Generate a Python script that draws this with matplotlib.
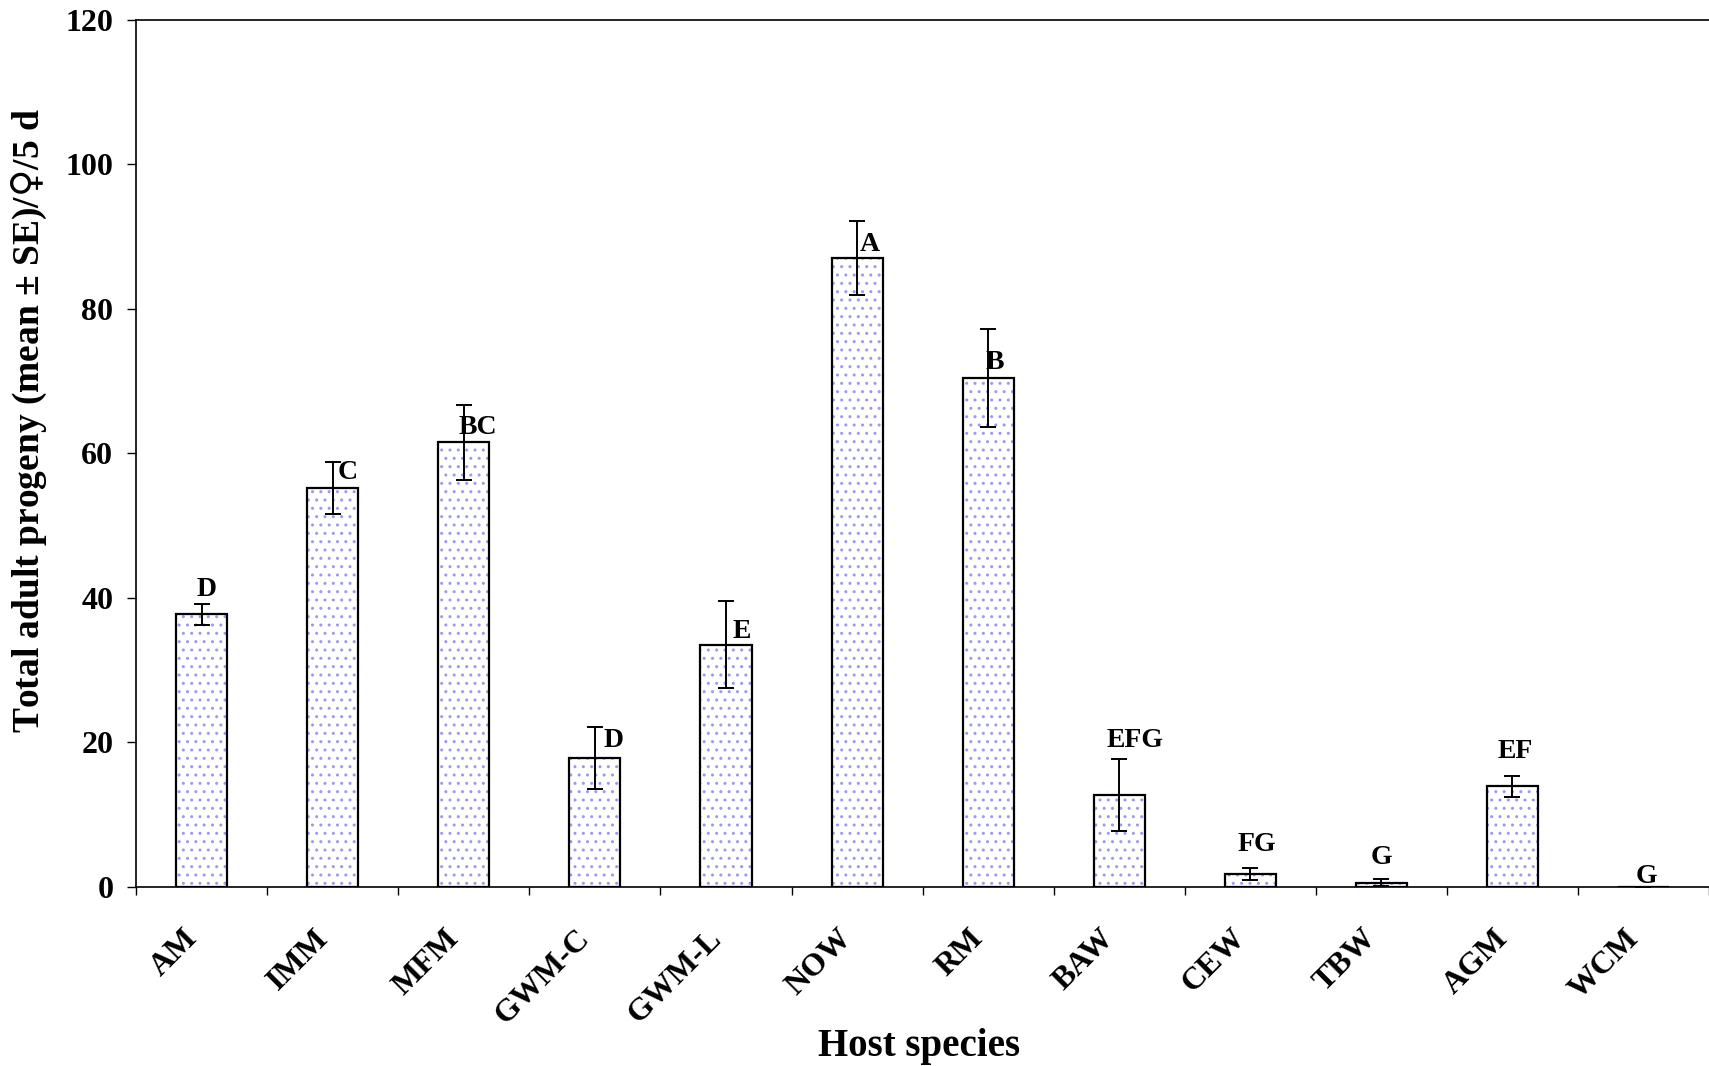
import numpy as np
import matplotlib
matplotlib.use('Agg')
import matplotlib.pyplot as plt
from matplotlib.transforms import ScaledTranslation

plt.rcParams['font.family'] = ['Liberation Serif', 'DejaVu Serif']
plt.rcParams['font.weight'] = 'bold'
plt.rcParams['hatch.linewidth'] = 1.0
# female sign drawn from DejaVu Sans (the serif one is tiny)
plt.rcParams['mathtext.fontset'] = 'custom'
plt.rcParams['mathtext.rm'] = 'DejaVu Sans'

# data
hosts = ['AM', 'IMM', 'MFM', 'GWM-C', 'GWM-L', 'NOW', 'RM', 'BAW', 'CEW', 'TBW', 'AGM', 'WCM']
progeny_mean = [37.7, 55.2, 61.5, 17.8, 33.5, 87.0, 70.4, 12.7, 1.8, 0.6, 13.9, 0.0]
progeny_se = [1.4, 3.6, 5.2, 4.3, 6.0, 5.1, 6.8, 5.0, 0.8, 0.5, 1.5, 0.0]

# mean separation letters and where they sit
letters = ['D', 'C', 'BC', 'D', 'E', 'A', 'B', 'EFG', 'FG', 'G', 'EF', 'G']
letter_dx = [0.04, 0.11, 0.11, 0.14, 0.12, 0.10, 0.05, 0.12, 0.05, 0.0, 0.02, 0.02]
letter_y = [41.2, 57.4, 63.5, 20.2, 35.3, 88.9, 72.5, 20.2, 5.9, 4.1, 18.7, 1.5]

yticks = [0, 20, 40, 60, 80, 100, 120]

fig = plt.figure(figsize=(17.09, 10.66), dpi=100)
ax = fig.add_axes([0.0797, 0.168, 0.9203, 0.8136])

x = np.arange(len(hosts))
w = 0.39

# dotted fill, then black outline on top
ax.bar(x, progeny_mean, width=w, color='white', edgecolor='#9a9af2',
       hatch='..', linewidth=0, zorder=2)
ax.bar(x, progeny_mean, width=w, facecolor='none', edgecolor='black',
       linewidth=1.6, zorder=3)
ax.errorbar(x, progeny_mean, yerr=progeny_se, fmt='none', ecolor='black',
            elinewidth=1.4, capsize=5.5, capthick=1.4, zorder=4)

for i in range(len(hosts)):
    ax.text(x[i] + letter_dx[i], letter_y[i], letters[i], ha='center', va='center',
            fontsize=20, fontweight='bold', zorder=5)

ax.set_xlim(-0.5, len(hosts) - 0.5)
ax.set_ylim(0, 120)
ax.set_yticks(yticks)
ax.tick_params(axis='y', direction='out', length=6.5, width=1.0, pad=10, labelsize=23)

ax.set_xticks(x)
ax.set_xticklabels(hosts, rotation=45, ha='right', va='center', rotation_mode='anchor',
                   fontsize=23, fontweight='bold')
ax.tick_params(axis='x', which='major', length=0, pad=34)
shift = ScaledTranslation(-0.09, 0, fig.dpi_scale_trans)
for lab in ax.get_xticklabels():
    lab.set_transform(lab.get_transform() + shift)
ax.set_xticks(np.arange(-0.5, len(hosts) + 0.5, 1.0), minor=True)
ax.tick_params(axis='x', which='minor', direction='out', length=6, width=1.0)

for lab in ax.get_yticklabels():
    lab.set_fontweight('bold')

ax.spines['right'].set_visible(False)
for s in ['left', 'bottom', 'top']:
    ax.spines[s].set_linewidth(1.2)

ax.set_ylabel('Total adult progeny (mean ± SE)/$\\mathrm{♀}$/5 d', fontsize=27, fontweight='bold')
ax.yaxis.set_label_coords(-0.0553, 0.538)
ax.set_xlabel('Host species', fontsize=28, fontweight='bold')
ax.xaxis.set_label_coords(0.4975, -0.163)
ax.xaxis.label.set_va('top')

fig.savefig('out.png', dpi=100)
